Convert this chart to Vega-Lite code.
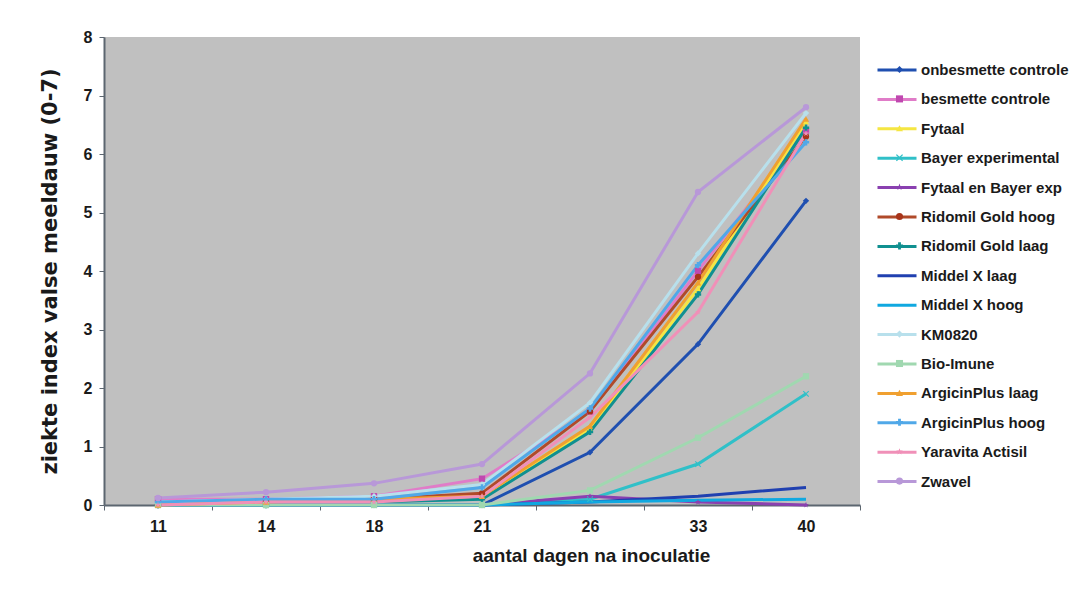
{
  "$schema": "https://vega.github.io/schema/vega-lite/v6.json",
  "autosize": "none",
  "width": 756,
  "height": 468,
  "padding": {"left": 104, "top": 37, "right": 220, "bottom": 94},
  "background": "#ffffff",
  "config": {
    "view": {"fill": "#c0c0c0", "stroke": null},
    "font": "Liberation Sans",
    "axis": {"labelFont": "Liberation Sans", "titleFont": "Liberation Sans", "labelColor": "#1a1a1a", "titleColor": "#1a1a1a", "domainColor": "#5c6670", "tickColor": "#5c6670", "labelFontWeight": "bold", "titleFontWeight": "bold", "labelFontSize": 16, "grid": false, "labelOverlap": false}
  },
  "data": {"values": [
    {"dag":"11","reeks":"onbesmette controle","v":0},{"dag":"14","reeks":"onbesmette controle","v":0},{"dag":"18","reeks":"onbesmette controle","v":0},{"dag":"21","reeks":"onbesmette controle","v":0},{"dag":"26","reeks":"onbesmette controle","v":0.9},{"dag":"33","reeks":"onbesmette controle","v":2.75},{"dag":"40","reeks":"onbesmette controle","v":5.2},
    {"dag":"11","reeks":"besmette controle","v":0.1},{"dag":"14","reeks":"besmette controle","v":0.1},{"dag":"18","reeks":"besmette controle","v":0.15},{"dag":"21","reeks":"besmette controle","v":0.45},{"dag":"26","reeks":"besmette controle","v":1.6},{"dag":"33","reeks":"besmette controle","v":4.0},{"dag":"40","reeks":"besmette controle","v":6.4},
    {"dag":"11","reeks":"Fytaal","v":0},{"dag":"14","reeks":"Fytaal","v":0},{"dag":"18","reeks":"Fytaal","v":0.1},{"dag":"21","reeks":"Fytaal","v":0.15},{"dag":"26","reeks":"Fytaal","v":1.3},{"dag":"33","reeks":"Fytaal","v":3.7},{"dag":"40","reeks":"Fytaal","v":6.55},
    {"dag":"11","reeks":"Bayer experimental","v":0},{"dag":"14","reeks":"Bayer experimental","v":0},{"dag":"18","reeks":"Bayer experimental","v":0},{"dag":"21","reeks":"Bayer experimental","v":0},{"dag":"26","reeks":"Bayer experimental","v":0.1},{"dag":"33","reeks":"Bayer experimental","v":0.7},{"dag":"40","reeks":"Bayer experimental","v":1.9},
    {"dag":"11","reeks":"Fytaal en Bayer exp","v":0},{"dag":"14","reeks":"Fytaal en Bayer exp","v":0},{"dag":"18","reeks":"Fytaal en Bayer exp","v":0},{"dag":"21","reeks":"Fytaal en Bayer exp","v":0},{"dag":"26","reeks":"Fytaal en Bayer exp","v":0.15},{"dag":"33","reeks":"Fytaal en Bayer exp","v":0.05},{"dag":"40","reeks":"Fytaal en Bayer exp","v":0},
    {"dag":"11","reeks":"Ridomil Gold hoog","v":0},{"dag":"14","reeks":"Ridomil Gold hoog","v":0.05},{"dag":"18","reeks":"Ridomil Gold hoog","v":0.1},{"dag":"21","reeks":"Ridomil Gold hoog","v":0.2},{"dag":"26","reeks":"Ridomil Gold hoog","v":1.6},{"dag":"33","reeks":"Ridomil Gold hoog","v":3.9},{"dag":"40","reeks":"Ridomil Gold hoog","v":6.3},
    {"dag":"11","reeks":"Ridomil Gold laag","v":0},{"dag":"14","reeks":"Ridomil Gold laag","v":0},{"dag":"18","reeks":"Ridomil Gold laag","v":0.05},{"dag":"21","reeks":"Ridomil Gold laag","v":0.1},{"dag":"26","reeks":"Ridomil Gold laag","v":1.25},{"dag":"33","reeks":"Ridomil Gold laag","v":3.6},{"dag":"40","reeks":"Ridomil Gold laag","v":6.45},
    {"dag":"11","reeks":"Middel X laag","v":0},{"dag":"14","reeks":"Middel X laag","v":0},{"dag":"18","reeks":"Middel X laag","v":0},{"dag":"21","reeks":"Middel X laag","v":0},{"dag":"26","reeks":"Middel X laag","v":0.05},{"dag":"33","reeks":"Middel X laag","v":0.15},{"dag":"40","reeks":"Middel X laag","v":0.3},
    {"dag":"11","reeks":"Middel X hoog","v":0},{"dag":"14","reeks":"Middel X hoog","v":0},{"dag":"18","reeks":"Middel X hoog","v":0},{"dag":"21","reeks":"Middel X hoog","v":0},{"dag":"26","reeks":"Middel X hoog","v":0.05},{"dag":"33","reeks":"Middel X hoog","v":0.08},{"dag":"40","reeks":"Middel X hoog","v":0.1},
    {"dag":"11","reeks":"KM0820","v":0.05},{"dag":"14","reeks":"KM0820","v":0.1},{"dag":"18","reeks":"KM0820","v":0.15},{"dag":"21","reeks":"KM0820","v":0.35},{"dag":"26","reeks":"KM0820","v":1.75},{"dag":"33","reeks":"KM0820","v":4.3},{"dag":"40","reeks":"KM0820","v":6.7},
    {"dag":"11","reeks":"Bio-Imune","v":0},{"dag":"14","reeks":"Bio-Imune","v":0},{"dag":"18","reeks":"Bio-Imune","v":0},{"dag":"21","reeks":"Bio-Imune","v":0},{"dag":"26","reeks":"Bio-Imune","v":0.25},{"dag":"33","reeks":"Bio-Imune","v":1.15},{"dag":"40","reeks":"Bio-Imune","v":2.2},
    {"dag":"11","reeks":"ArgicinPlus laag","v":0},{"dag":"14","reeks":"ArgicinPlus laag","v":0.05},{"dag":"18","reeks":"ArgicinPlus laag","v":0.1},{"dag":"21","reeks":"ArgicinPlus laag","v":0.15},{"dag":"26","reeks":"ArgicinPlus laag","v":1.35},{"dag":"33","reeks":"ArgicinPlus laag","v":3.8},{"dag":"40","reeks":"ArgicinPlus laag","v":6.6},
    {"dag":"11","reeks":"ArgicinPlus hoog","v":0.05},{"dag":"14","reeks":"ArgicinPlus hoog","v":0.1},{"dag":"18","reeks":"ArgicinPlus hoog","v":0.1},{"dag":"21","reeks":"ArgicinPlus hoog","v":0.3},{"dag":"26","reeks":"ArgicinPlus hoog","v":1.65},{"dag":"33","reeks":"ArgicinPlus hoog","v":4.1},{"dag":"40","reeks":"ArgicinPlus hoog","v":6.2},
    {"dag":"11","reeks":"Yaravita Actisil","v":0},{"dag":"14","reeks":"Yaravita Actisil","v":0.05},{"dag":"18","reeks":"Yaravita Actisil","v":0.05},{"dag":"21","reeks":"Yaravita Actisil","v":0.15},{"dag":"26","reeks":"Yaravita Actisil","v":1.5},{"dag":"33","reeks":"Yaravita Actisil","v":3.3},{"dag":"40","reeks":"Yaravita Actisil","v":6.35},
    {"dag":"11","reeks":"Zwavel","v":0.12},{"dag":"14","reeks":"Zwavel","v":0.22},{"dag":"18","reeks":"Zwavel","v":0.37},{"dag":"21","reeks":"Zwavel","v":0.7},{"dag":"26","reeks":"Zwavel","v":2.25},{"dag":"33","reeks":"Zwavel","v":5.35},{"dag":"40","reeks":"Zwavel","v":6.8}
  ]},
  "encoding": {
    "x": {"field": "dag", "type": "ordinal", "sort": ["11","14","18","21","26","33","40"], "bandPosition": 0.5,
      "scale": {"type": "band", "paddingInner": 0, "paddingOuter": 0},
      "axis": {"title": "aantal dagen na inoculatie", "labelAngle": 0, "tickSize": 5, "tickBand": "extent", "labelPadding": 8, "titlePadding": 12, "titleFontSize": 19, "titleX": 487, "domainWidth": 2}},
    "y": {"field": "v", "type": "quantitative",
      "scale": {"domain": [0, 8], "nice": false},
      "axis": {"title": "ziekte index valse meeldauw (0-7)", "values": [0,1,2,3,4,5,6,7,8], "tickSize": 5, "labelPadding": 7, "titlePadding": 23, "titleFont": "DejaVu Sans", "titleFontSize": 21, "domainWidth": 2}}
  },
  "layer": [
    {
      "mark": {"type": "line", "strokeWidth": 3},
      "encoding": {
        "stroke": {"field": "reeks", "type": "nominal",
          "sort": ["onbesmette controle","besmette controle","Fytaal","Bayer experimental","Fytaal en Bayer exp","Ridomil Gold hoog","Ridomil Gold laag","Middel X laag","Middel X hoog","KM0820","Bio-Imune","ArgicinPlus laag","ArgicinPlus hoog","Yaravita Actisil","Zwavel"],
          "scale": {"range": ["#1f4fb0","#e07cc8","#f5e642","#30c0c8","#8a40b0","#b04a2a","#109090","#2040b0","#10a8e0","#b8e0ec","#a0d8b0","#f0a030","#50a8e8","#f090b8","#b898d8"]},
          "legend": {"title": null, "orient": "none", "legendX": 785, "legendY": 25, "symbolType": "M-3,0H3", "symbolSize": 169, "symbolStrokeWidth": 3, "labelFont": "Liberation Sans", "labelFontSize": 15, "labelFontWeight": "bold", "labelColor": "#1a1a1a", "rowPadding": 13.4, "labelOffset": 16, "padding": 0}}
      }
    },
    {
      "mark": {"type": "point", "filled": true, "size": 40, "opacity": 1},
      "encoding": {
        "fill": {"field": "reeks", "type": "nominal",
          "scale": {"domain": ["onbesmette controle","besmette controle","Fytaal","Bayer experimental","Fytaal en Bayer exp","Ridomil Gold hoog","Ridomil Gold laag","Middel X laag","Middel X hoog","KM0820","Bio-Imune","ArgicinPlus laag","ArgicinPlus hoog","Yaravita Actisil","Zwavel"],
            "range": ["#1f4fb0","#c048b0","#f5e642","#30c0c8","#8a40b0","#a8341a","#109090","#2040b0","#10a8e0","#b8e0ec","#a0d8b0","#f0a030","#50a8e8","#f090b8","#b898d8"]},
          "legend": {"title": null, "orient": "none", "legendX": 788, "legendY": 25, "symbolSize": 50, "labelFont": "Liberation Sans", "labelFontSize": 15, "labelFontWeight": "bold", "labelExpr": "''", "rowPadding": 13.4, "labelOffset": 16, "padding": 0}},
        "shape": {"field": "reeks", "type": "nominal",
          "scale": {"domain": ["onbesmette controle","besmette controle","Fytaal","Bayer experimental","Fytaal en Bayer exp","Ridomil Gold hoog","Ridomil Gold laag","Middel X laag","Middel X hoog","KM0820","Bio-Imune","ArgicinPlus laag","ArgicinPlus hoog","Yaravita Actisil","Zwavel"],
            "range": ["diamond","square","triangle-up","M-1,-0.75L-0.75,-1L0,-0.25L0.75,-1L1,-0.75L0.25,0L1,0.75L0.75,1L0,0.25L-0.75,1L-1,0.75L-0.25,0Z","M0,-1L0.24,-0.33L0.95,-0.31L0.38,0.12L0.59,0.81L0,0.4L-0.59,0.81L-0.38,0.12L-0.95,-0.31L-0.24,-0.33Z","circle","cross","M0,0L0,0Z","M0,0L0,0Z","diamond","square","triangle-up","cross","M0,-1L0.24,-0.33L0.95,-0.31L0.38,0.12L0.59,0.81L0,0.4L-0.59,0.81L-0.38,0.12L-0.95,-0.31L-0.24,-0.33Z","circle"]},
          "legend": {"title": null, "orient": "none", "legendX": 788, "legendY": 25, "symbolSize": 50, "labelFont": "Liberation Sans", "labelFontSize": 15, "labelFontWeight": "bold", "labelExpr": "''", "rowPadding": 13.4, "labelOffset": 16, "padding": 0}}
      }
    }
  ]
}
